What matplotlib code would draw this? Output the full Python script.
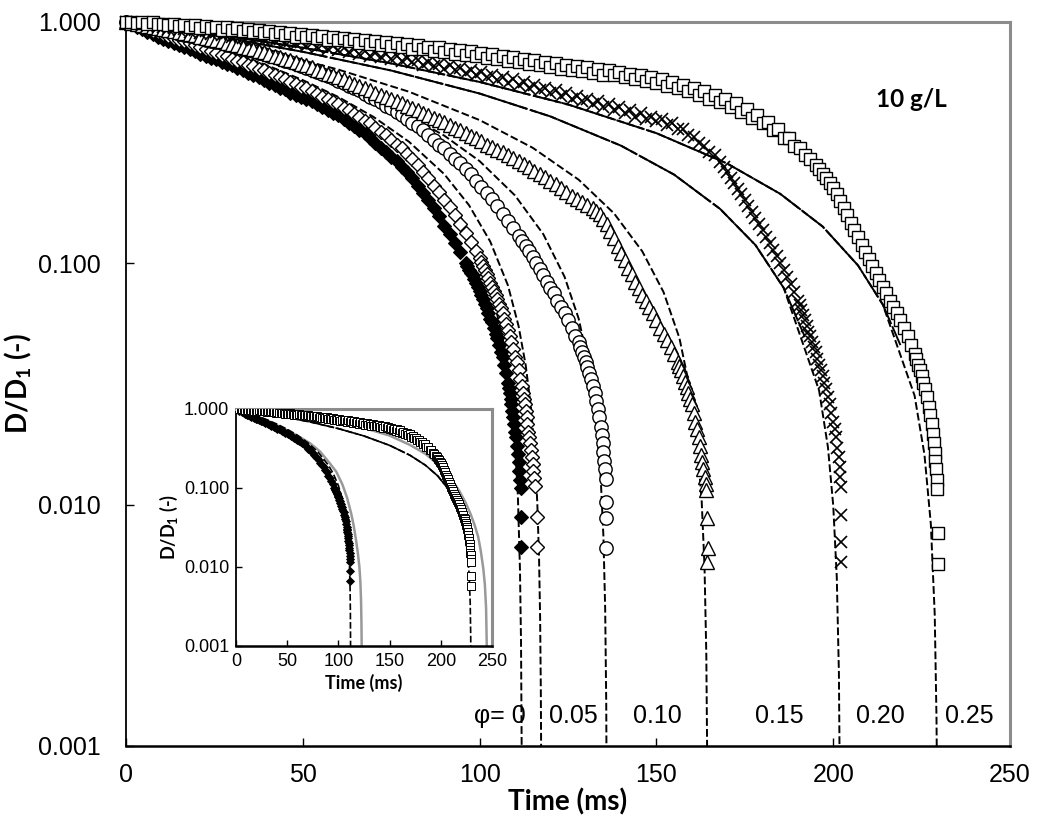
import numpy as np
import matplotlib
matplotlib.use('Agg')
import matplotlib.pyplot as plt
from matplotlib.ticker import FixedLocator, FuncFormatter

plt.rcParams['font.family'] = ['Liberation Sans', 'DejaVu Sans']
plt.rcParams['mathtext.fontset'] = 'custom'
plt.rcParams['mathtext.rm'] = 'Lato'
plt.rcParams['mathtext.bf'] = 'Lato:bold'

# measured diameter ratio D/D1 vs time (ms), one set per volume fraction phi
t_00 = [0, 1.5, 3, 4.5, 6, 7.5, 9, 10.5, 12, 13.5, 15, 16.5, 18, 19.5, 21, 22.5, 24, 25.5, 27,
        28.5, 30, 31.5, 33, 34.5, 36, 37.5, 39, 40.5, 42, 43.5, 45, 46.5, 48, 49.5, 51, 52.5, 54,
        55.5, 57, 58.5, 60, 61.5, 63, 64.5, 66, 67.5, 69, 70.5, 72, 73.5, 75, 76.5, 78, 79.5, 81,
        82.5, 84, 85.5, 87, 88.5, 90, 91.5, 93, 94.5, 96, 96.5, 97, 97.5, 98, 98.5, 99, 99.5, 100,
        100.5, 101, 101.5, 102, 102.5, 103, 103.5, 104, 104.5, 105, 105.5, 106, 106.5, 107, 107.5,
        108, 108.25, 108.5, 108.75, 109, 109.25, 109.5, 109.75, 110, 110.25, 110.5, 110.75, 111,
        111.2, 111.4, 111.6, 111.8, 111.8]
d_00 = [1.0, 0.98, 0.955, 0.935, 0.905, 0.89, 0.87, 0.85, 0.83, 0.815, 0.8, 0.785, 0.77, 0.755,
        0.74, 0.725, 0.71, 0.7, 0.685, 0.67, 0.66, 0.645, 0.63, 0.615, 0.6, 0.59, 0.575, 0.56,
        0.55, 0.535, 0.525, 0.51, 0.5, 0.49, 0.48, 0.47, 0.455, 0.445, 0.43, 0.42, 0.41, 0.395,
        0.38, 0.37, 0.355, 0.345, 0.33, 0.315, 0.3, 0.29, 0.275, 0.265, 0.25, 0.24, 0.225, 0.21,
        0.196, 0.183, 0.17, 0.157, 0.143, 0.132, 0.121, 0.111, 0.1, 0.097, 0.094, 0.091, 0.089,
        0.086, 0.083, 0.08, 0.077, 0.074, 0.071, 0.068, 0.065, 0.062, 0.059, 0.057, 0.054, 0.051,
        0.049, 0.046, 0.043, 0.041, 0.038, 0.035, 0.032, 0.0305, 0.029, 0.0275, 0.026, 0.0245,
        0.023, 0.0215, 0.02, 0.019, 0.0175, 0.0162, 0.015, 0.0138, 0.0127, 0.0117, 0.0089, 0.0067]

t_05 = [0, 1.5, 3, 4.5, 6, 7.5, 9, 10.5, 12, 13.5, 15, 16.5, 18, 19.5, 21, 22.5, 24, 25.5, 27,
        28.5, 30, 31.5, 33, 34.5, 36, 37.5, 39, 40.5, 42, 43.5, 45, 46.5, 48, 49.5, 51, 52.5, 54,
        55.5, 57, 58.5, 60, 61.5, 63, 64.5, 66, 67.5, 69, 70.5, 72, 73.5, 75, 76.5, 78, 79.5, 81,
        82.5, 84, 85.5, 87, 88.5, 90, 91.5, 93, 94.5, 96, 97.5, 99, 100, 100.5, 101, 101.5, 102,
        102.5, 103, 103.5, 104, 104.5, 105, 105.5, 106, 106.5, 107, 107.5, 108, 108.5, 109, 109.5,
        110, 110.5, 111, 111.5, 112, 112.25, 112.5, 112.75, 113, 113.25, 113.5, 113.75, 114,
        114.25, 114.5, 114.75, 115, 115.2, 115.4, 115.6, 116.3, 116.3]
d_05 = [1.0, 0.985, 0.97, 0.955, 0.935, 0.92, 0.905, 0.89, 0.875, 0.86, 0.845, 0.83, 0.815, 0.8,
        0.785, 0.77, 0.76, 0.745, 0.73, 0.72, 0.705, 0.69, 0.68, 0.665, 0.655, 0.64, 0.63, 0.615,
        0.605, 0.59, 0.58, 0.565, 0.555, 0.54, 0.53, 0.515, 0.505, 0.49, 0.48, 0.465, 0.455, 0.44,
        0.43, 0.415, 0.405, 0.39, 0.38, 0.365, 0.35, 0.34, 0.325, 0.31, 0.3, 0.285, 0.27, 0.255,
        0.24, 0.225, 0.21, 0.197, 0.183, 0.171, 0.158, 0.146, 0.134, 0.123, 0.112, 0.105, 0.101,
        0.097, 0.094, 0.09, 0.087, 0.083, 0.08, 0.077, 0.074, 0.071, 0.068, 0.065, 0.062, 0.059,
        0.056, 0.053, 0.05, 0.047, 0.044, 0.041, 0.039, 0.036, 0.033, 0.031, 0.029, 0.0275, 0.026,
        0.0245, 0.023, 0.0215, 0.02, 0.019, 0.018, 0.0168, 0.0157, 0.0147, 0.0138, 0.0129, 0.012,
        0.0089, 0.0067]

t_10 = [0, 1.5, 3, 4.5, 6, 7.5, 9, 10.5, 12, 13.5, 15, 16.5, 18, 19.5, 21, 22.5, 24, 25.5, 27,
        28.5, 30, 31.5, 33, 34.5, 36, 37.5, 39, 40.5, 42, 43.5, 45, 46.5, 48, 49.5, 51, 52.5, 54,
        55.5, 57, 58.5, 60, 61.5, 63, 64.5, 66, 67.5, 69, 70.5, 72, 73.5, 75, 76.5, 78, 79.5, 81,
        82.5, 84, 85.5, 87, 88.5, 90, 91.5, 93, 94.5, 96, 97.5, 99, 100.5, 102, 103.5, 105, 106.5,
        108, 109.5, 111, 112, 113, 114, 115, 116, 117, 118, 119, 120, 121, 122, 123, 124, 125,
        126, 127, 128, 128.5, 129, 129.5, 130, 130.5, 131, 131.5, 132, 132.5, 133, 133.4, 133.8,
        134.2, 134.5, 134.8, 135, 135.2, 135.4, 135.6, 135.7, 135.8, 135.8]
d_10 = [1.0, 0.99, 0.98, 0.97, 0.96, 0.95, 0.94, 0.925, 0.915, 0.905, 0.895, 0.885, 0.875, 0.865,
        0.855, 0.845, 0.835, 0.825, 0.815, 0.805, 0.795, 0.785, 0.775, 0.765, 0.755, 0.745, 0.735,
        0.725, 0.715, 0.705, 0.69, 0.68, 0.67, 0.655, 0.645, 0.635, 0.62, 0.61, 0.595, 0.585,
        0.57, 0.56, 0.545, 0.53, 0.52, 0.505, 0.49, 0.48, 0.465, 0.45, 0.44, 0.425, 0.41, 0.395,
        0.38, 0.37, 0.355, 0.34, 0.325, 0.31, 0.3, 0.285, 0.27, 0.26, 0.245, 0.235, 0.22, 0.208,
        0.196, 0.184, 0.172, 0.16, 0.15, 0.14, 0.13, 0.124, 0.118, 0.112, 0.106, 0.1, 0.095,
        0.089, 0.084, 0.079, 0.075, 0.07, 0.066, 0.062, 0.058, 0.054, 0.05, 0.047, 0.045, 0.043,
        0.041, 0.039, 0.037, 0.035, 0.033, 0.031, 0.029, 0.027, 0.025, 0.023, 0.021, 0.0195,
        0.018, 0.0165, 0.0152, 0.014, 0.0128, 0.0103, 0.0088, 0.0066]

t_15 = [0, 1.5, 3, 4.5, 6, 7.5, 9, 10.5, 12, 13.5, 15, 16.5, 18, 19.5, 21, 22.5, 24, 25.5, 27,
        28.5, 30, 31.5, 33, 34.5, 36, 37.5, 39, 40.5, 42, 43.5, 45, 46.5, 48, 49.5, 51, 52.5, 54,
        55.5, 57, 58.5, 60, 61.5, 63, 64.5, 66, 67.5, 69, 70.5, 72, 73.5, 75, 76.5, 78, 79.5, 81,
        82.5, 84, 85.5, 87, 88.5, 90, 91.5, 93, 94.5, 96, 97.5, 99, 100.5, 102, 103.5, 105, 106.5,
        108, 109.5, 111, 112.5, 114, 115.5, 117, 118.5, 120, 121.5, 123, 124.5, 126, 127.5, 129,
        130.5, 132, 133, 134, 135, 136, 137, 138, 139, 140, 141, 142, 143, 144, 145, 146, 147,
        148, 149, 150, 151, 152, 153, 154, 155, 156, 156.5, 157, 157.5, 158, 158.5, 159, 159.5,
        160, 160.5, 161, 161.5, 162, 162.4, 162.7, 163, 163.3, 163.6, 163.9, 164.1, 164.3, 164.5,
        164.3]
d_15 = [1.0, 0.99, 0.98, 0.97, 0.96, 0.95, 0.945, 0.935, 0.925, 0.915, 0.905, 0.9, 0.89, 0.88,
        0.87, 0.86, 0.85, 0.84, 0.83, 0.82, 0.81, 0.8, 0.79, 0.78, 0.77, 0.76, 0.75, 0.74, 0.725,
        0.715, 0.705, 0.695, 0.68, 0.67, 0.66, 0.65, 0.635, 0.625, 0.61, 0.6, 0.59, 0.58, 0.565,
        0.555, 0.545, 0.535, 0.52, 0.51, 0.5, 0.49, 0.48, 0.47, 0.46, 0.45, 0.44, 0.43, 0.42,
        0.41, 0.4, 0.393, 0.385, 0.375, 0.365, 0.355, 0.345, 0.338, 0.33, 0.32, 0.31, 0.303,
        0.295, 0.288, 0.28, 0.272, 0.265, 0.257, 0.25, 0.242, 0.235, 0.228, 0.22, 0.213, 0.205,
        0.198, 0.19, 0.185, 0.18, 0.175, 0.17, 0.165, 0.16, 0.153, 0.145, 0.136, 0.127, 0.118,
        0.11, 0.103, 0.096, 0.09, 0.084, 0.079, 0.074, 0.07, 0.066, 0.062, 0.058, 0.054, 0.051,
        0.048, 0.045, 0.042, 0.039, 0.0375, 0.036, 0.034, 0.0323, 0.0306, 0.029, 0.0275, 0.026,
        0.024, 0.022, 0.0205, 0.019, 0.0175, 0.016, 0.015, 0.014, 0.013, 0.0122, 0.0115, 0.0088,
        0.0066, 0.0058]

t_20 = [0, 1.5, 3, 4.5, 6, 7.5, 9, 10.5, 12, 13.5, 15, 16.5, 18, 19.5, 21, 22.5, 24, 25.5, 27,
        28.5, 30, 31.5, 33, 34.5, 36, 37.5, 39, 40.5, 42, 43.5, 45, 46.5, 48, 49.5, 51, 52.5, 54,
        55.5, 57, 58.5, 60, 61.5, 63, 64.5, 66, 67.5, 69, 70.5, 72, 73.5, 75, 76.5, 78, 79.5, 81,
        82.5, 84, 85.5, 87, 88.5, 90, 91.5, 93, 94.5, 96, 97.5, 99, 100.5, 102, 103.5, 105, 106.5,
        108, 109.5, 111, 112.5, 114, 115.5, 117, 118.5, 120, 121.5, 123, 124.5, 126, 127.5, 129,
        130.5, 132, 133.5, 135, 136.5, 138, 139.5, 141, 142.5, 144, 145.5, 147, 148.5, 150, 151.5,
        153, 154.5, 156, 157.5, 159, 160.5, 162, 163.5, 165, 166.5, 168, 169, 170, 171, 172, 173,
        174, 175, 176, 177, 178, 179, 180, 181, 182, 183, 184, 185, 186, 187, 188, 189, 190,
        190.5, 191, 191.5, 192, 192.5, 193, 193.5, 194, 194.5, 195, 195.5, 196, 196.5, 197,
        197.5, 198, 198.5, 199, 199.5, 200, 200.4, 200.8, 201.2, 201.5, 201.8, 202, 202.1, 202.2,
        202.3, 202.3]
d_20 = [1.0, 0.99, 0.985, 0.975, 0.965, 0.97, 0.95, 0.955, 0.935, 0.945, 0.925, 0.935, 0.91,
        0.925, 0.9, 0.915, 0.89, 0.91, 0.88, 0.9, 0.87, 0.885, 0.86, 0.875, 0.845, 0.87, 0.84,
        0.855, 0.83, 0.85, 0.815, 0.835, 0.81, 0.825, 0.795, 0.815, 0.785, 0.805, 0.775, 0.795,
        0.765, 0.78, 0.75, 0.77, 0.74, 0.755, 0.725, 0.745, 0.715, 0.735, 0.705, 0.72, 0.69, 0.71,
        0.68, 0.695, 0.665, 0.685, 0.655, 0.67, 0.64, 0.66, 0.63, 0.645, 0.615, 0.635, 0.6, 0.62,
        0.59, 0.605, 0.575, 0.59, 0.56, 0.58, 0.55, 0.565, 0.535, 0.55, 0.52, 0.535, 0.51, 0.52,
        0.495, 0.51, 0.48, 0.495, 0.47, 0.48, 0.455, 0.47, 0.445, 0.455, 0.43, 0.445, 0.42, 0.43,
        0.405, 0.42, 0.395, 0.405, 0.39, 0.395, 0.375, 0.38, 0.36, 0.36, 0.34, 0.335, 0.315,
        0.305, 0.29, 0.28, 0.262, 0.25, 0.238, 0.226, 0.215, 0.204, 0.193, 0.183, 0.173, 0.163,
        0.154, 0.145, 0.137, 0.129, 0.121, 0.114, 0.107, 0.1, 0.094, 0.088, 0.082, 0.076, 0.07,
        0.067, 0.064, 0.061, 0.058, 0.055, 0.052, 0.05, 0.047, 0.045, 0.043, 0.04, 0.038, 0.036,
        0.034, 0.032, 0.03, 0.028, 0.026, 0.024, 0.022, 0.0205, 0.019, 0.0172, 0.0158, 0.0143,
        0.013, 0.0118, 0.0091, 0.007, 0.0058]

t_25 = [0, 1.5, 3, 4.5, 6, 7.5, 9, 10.5, 12, 13.5, 15, 16.5, 18, 19.5, 21, 22.5, 24, 25.5, 27,
        28.5, 30, 31.5, 33, 34.5, 36, 37.5, 39, 40.5, 42, 43.5, 45, 46.5, 48, 49.5, 51, 52.5, 54,
        55.5, 57, 58.5, 60, 61.5, 63, 64.5, 66, 67.5, 69, 70.5, 72, 73.5, 75, 76.5, 78, 79.5, 81,
        82.5, 84, 85.5, 87, 88.5, 90, 91.5, 93, 94.5, 96, 97.5, 99, 100.5, 102, 103.5, 105, 106.5,
        108, 109.5, 111, 112.5, 114, 115.5, 117, 118.5, 120, 121.5, 123, 124.5, 126, 127.5, 129,
        130.5, 132, 133.5, 135, 136.5, 138, 139.5, 141, 142.5, 144, 145.5, 147, 148.5, 150, 151.5,
        153, 154.5, 156, 157.5, 159, 160.5, 162, 163.5, 165, 166.5, 168, 169.5, 171, 172.5, 174,
        175.5, 177, 178.5, 180, 181.5, 183, 184.5, 186, 187.5, 189, 190.5, 192, 193.5, 195, 196,
        197, 198, 199, 200, 201, 202, 203, 204, 205, 206, 207, 208, 209, 210, 211, 212, 213, 214,
        215, 216, 217, 218, 219, 220, 221, 222, 223, 223.5, 224, 224.5, 225, 225.5, 226, 226.5,
        227, 227.4, 227.8, 228.1, 228.4, 228.7, 228.9, 229.1, 229.3, 229.4, 229.5, 229.6]
d_25 = [1.0, 1.0, 0.99, 1.0, 0.985, 0.995, 0.98, 0.985, 0.97, 0.98, 0.96, 0.975, 0.955, 0.97,
        0.945, 0.96, 0.94, 0.955, 0.93, 0.95, 0.925, 0.94, 0.915, 0.935, 0.905, 0.925, 0.9, 0.915,
        0.89, 0.91, 0.88, 0.9, 0.87, 0.895, 0.865, 0.885, 0.855, 0.875, 0.845, 0.87, 0.84, 0.86,
        0.83, 0.85, 0.82, 0.845, 0.81, 0.835, 0.805, 0.825, 0.795, 0.82, 0.785, 0.81, 0.775, 0.8,
        0.77, 0.79, 0.76, 0.785, 0.75, 0.775, 0.74, 0.765, 0.73, 0.755, 0.72, 0.745, 0.71, 0.735,
        0.7, 0.725, 0.69, 0.715, 0.68, 0.705, 0.67, 0.695, 0.66, 0.685, 0.65, 0.675, 0.64, 0.665,
        0.635, 0.655, 0.625, 0.65, 0.615, 0.64, 0.605, 0.63, 0.6, 0.62, 0.59, 0.61, 0.58, 0.6,
        0.57, 0.59, 0.56, 0.58, 0.545, 0.565, 0.53, 0.55, 0.515, 0.535, 0.5, 0.515, 0.48, 0.5,
        0.465, 0.48, 0.445, 0.46, 0.425, 0.435, 0.4, 0.41, 0.38, 0.385, 0.355, 0.36, 0.33, 0.33,
        0.305, 0.3, 0.28, 0.27, 0.255, 0.245, 0.235, 0.225, 0.215, 0.205, 0.193, 0.182, 0.17,
        0.158, 0.147, 0.137, 0.128, 0.119, 0.111, 0.104, 0.097, 0.091, 0.085, 0.08, 0.075, 0.07,
        0.066, 0.062, 0.058, 0.054, 0.05, 0.046, 0.042, 0.04, 0.038, 0.036, 0.034, 0.032, 0.03,
        0.028, 0.0255, 0.0235, 0.0215, 0.0197, 0.018, 0.0164, 0.0152, 0.014, 0.0127, 0.0116,
        0.0076, 0.0057]

# fitted thinning curves, each dropping to zero at its breakup time
ft_00 = [0, 10, 20, 30, 40, 50, 60, 70, 80, 90, 95, 100, 104, 107, 109, 110, 110.8, 111.4, 111.7, 111.9]
fd_00 = [1.0, 0.911, 0.821, 0.732, 0.643, 0.554, 0.464, 0.375, 0.286, 0.196, 0.152, 0.107, 0.071,
         0.045, 0.027, 0.018, 0.011, 0.0054, 0.0027, 0.0009]
ft_05 = [0, 10, 20, 30, 40, 50, 60, 70, 80, 90, 97, 103, 108, 111, 113, 114.5, 115.5, 116.3, 116.8,
         117.1, 117.3, 117.4]
fd_05 = [1.0, 0.915, 0.83, 0.745, 0.66, 0.574, 0.489, 0.404, 0.319, 0.234, 0.174, 0.123, 0.081,
         0.055, 0.038, 0.0255, 0.017, 0.0102, 0.006, 0.0034, 0.0017, 0.0009]
ft_10 = [0, 15, 30, 45, 60, 75, 90, 100, 110, 118, 124, 128, 131, 133, 134.2, 135, 135.5, 135.8, 135.9]
fd_10 = [1.0, 0.89, 0.779, 0.669, 0.559, 0.449, 0.338, 0.265, 0.191, 0.132, 0.088, 0.059, 0.037,
         0.022, 0.0132, 0.0074, 0.0037, 0.0015, 0.0007]
ft_15 = [0, 20, 40, 60, 80, 100, 115, 128, 138, 146, 152, 156.5, 159.5, 161.5, 162.8, 163.6, 164.1, 164.35]
fd_15 = [1.0, 0.878, 0.757, 0.635, 0.514, 0.392, 0.301, 0.222, 0.161, 0.112, 0.076, 0.049, 0.03,
         0.018, 0.0103, 0.0055, 0.0024, 0.0009]
ft_20 = [0, 25, 50, 75, 100, 120, 140, 155, 168, 178, 186, 192, 196, 198.5, 200, 201, 201.6, 201.85]
fd_20 = [1.0, 0.876, 0.752, 0.629, 0.505, 0.406, 0.307, 0.233, 0.168, 0.119, 0.079, 0.0495, 0.0297,
         0.0173, 0.0099, 0.005, 0.002, 0.0007]
ft_25 = [0, 25, 50, 75, 100, 125, 150, 170, 185, 197, 207, 214, 219, 223, 225.8, 227.6, 228.7, 229.2, 229.35]
fd_25 = [1.0, 0.891, 0.782, 0.673, 0.564, 0.455, 0.346, 0.259, 0.194, 0.142, 0.098, 0.0675, 0.0458,
         0.0283, 0.0161, 0.0083, 0.0035, 0.0013, 0.0007]

# second model shown in the inset (grey)
gt_a = [0, 15, 30, 46, 60, 72, 82, 91, 98, 104, 108.5, 112.4, 115, 117.2, 119, 120.5, 121.5, 122.1, 122.5, 122.8]
gd_a = [1.0, 0.85, 0.72, 0.57, 0.46, 0.37, 0.29, 0.21, 0.16, 0.11, 0.075, 0.048, 0.033, 0.022, 0.015,
        0.01, 0.0063, 0.0038, 0.002, 0.0008]
gt_b = [0, 40, 80, 120, 150, 170, 185, 197, 205, 212, 218, 224, 229, 233, 236.5, 239, 241.5, 243, 244.2, 245]
gd_b = [1.0, 0.87, 0.74, 0.6, 0.46, 0.35, 0.27, 0.2, 0.155, 0.12, 0.092, 0.066, 0.047, 0.034, 0.024,
        0.016, 0.0095, 0.006, 0.003, 0.0008]

phi_labels = ['\u03c6= 0', '0.05', '0.10', '0.15', '0.20', '0.25']
phi_label_x = [105.8, 126.4, 150.2, 184.7, 213.2, 238.4]

data = [(t_00, d_00), (t_05, d_05), (t_10, d_10), (t_15, d_15), (t_20, d_20), (t_25, d_25)]
fits = [(ft_00, fd_00), (ft_05, fd_05), (ft_10, fd_10), (ft_15, fd_15), (ft_20, fd_20), (ft_25, fd_25)]
styles = [dict(marker='D', ms=7.4, mfc='black', mec='black', mew=0.8),
          dict(marker='D', ms=7.2, mfc='white', mec='black', mew=1.0),
          dict(marker='o', ms=9.6, mfc='white', mec='black', mew=1.0),
          dict(marker='^', ms=9.8, mfc='white', mec='black', mew=1.0),
          dict(marker='x', ms=9.0, mfc='none', mec='black', mew=1.2),
          dict(marker='s', ms=9.3, mfc='white', mec='black', mew=1.0)]
long_dash = [False, False, False, False, True, True]


def style_axes(ax, labelsize, pad):
    ax.set_yscale('log')
    ax.set_xlim(0, 250)
    ax.set_ylim(0.001, 1.0)
    ax.xaxis.set_major_locator(FixedLocator([0, 50, 100, 150, 200, 250]))
    ax.yaxis.set_major_locator(FixedLocator([0.001, 0.01, 0.1, 1.0]))
    ax.yaxis.set_minor_locator(FixedLocator([]))
    ax.yaxis.set_major_formatter(FuncFormatter(lambda v, p: '%.3f' % v))
    ax.tick_params(direction='in', labelsize=labelsize, pad=pad, length=6, width=1)
    for s in ['top', 'right']:
        ax.spines[s].set_color('#8c8c8c')
        ax.spines[s].set_linewidth(2.2)
    ax.spines['left'].set_linewidth(1.3)
    ax.spines['bottom'].set_linewidth(1.8)


def draw_fit(ax, t, d, longdash, lw):
    t = np.array(t)
    d = np.array(d)
    top = d >= 0.04
    if longdash:
        low = ~top | np.roll(top, -1)
        ax.plot(t[top], d[top], color='black', lw=lw, dashes=(14, 1.2), zorder=2)
        ax.plot(t[low], d[low], color='black', lw=lw, dashes=(4, 1.6), zorder=2)
    else:
        ax.plot(t, d, color='black', lw=lw, dashes=(4, 1.6), zorder=2)


fig = plt.figure(figsize=(10.4, 8.25), dpi=100)
ax = fig.add_axes([0.1212, 0.0958, 0.85, 0.8776])
style_axes(ax, 18, 18)
ax.tick_params(axis='x', pad=12)

for (ft, fd), ld in zip(fits, long_dash):
    draw_fit(ax, ft, fd, ld, 1.4)
for (t, d), st in zip(data, styles):
    ax.plot(t, d, ls='none', clip_on=False, zorder=3, **st)

for lab, x in zip(phi_labels, phi_label_x):
    ax.text(x, 0.00133, lab, fontsize=18, ha='center', va='center', zorder=5)
ax.text(0.888, 0.893, '10 g/L', transform=ax.transAxes, fontsize=17.5, fontweight='bold',
        family='Lato', ha='center', va='center')

ax.set_xlabel('Time (ms)', fontsize=20, fontweight='bold', family='Lato', labelpad=1)
ax.set_ylabel(r'D/D$_\mathbf{1}$ (-)', fontsize=20, fontweight='bold', family='Lato', labelpad=3)

# inset: phi = 0 and 0.25 against the second model
axi = fig.add_axes([0.2269, 0.217, 0.2462, 0.2873])
style_axes(axi, 13, 5)
axi.tick_params(length=4)
axi.plot(gt_a, gd_a, color='#999999', lw=1.8, zorder=2)
axi.plot(gt_b, gd_b, color='#999999', lw=1.8, zorder=2)
draw_fit(axi, ft_00, fd_00, False, 1.2)
draw_fit(axi, ft_25, fd_25, True, 1.2)
axi.plot(t_00, d_00, ls='none', marker='D', ms=4.4, mfc='black', mec='black', mew=0.6, zorder=3)
axi.plot(t_25, d_25, ls='none', marker='s', ms=5.5, mfc='white', mec='black', mew=0.7, zorder=3)
axi.set_xlabel('Time (ms)', fontsize=13, fontweight='bold', family='Lato', labelpad=3)
axi.set_ylabel(r'D/D$_\mathbf{1}$ (-)', fontsize=13, fontweight='bold', family='Lato', labelpad=3)

fig.savefig('out.png', dpi=100)
